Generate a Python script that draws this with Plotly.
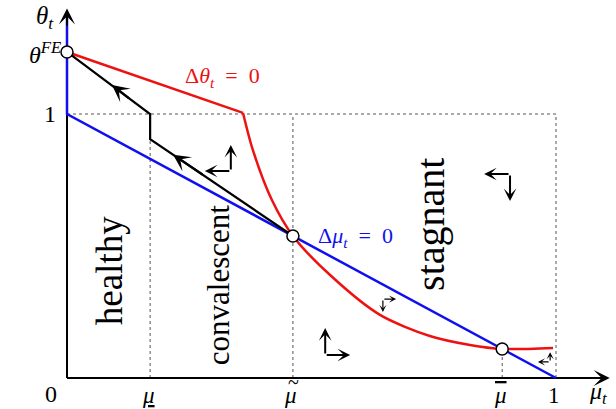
import plotly.graph_objects as go

# ---- data ----
theta_fe = 1.235
mu_low, mu_tilde, mu_bar = 0.17, 0.462, 0.89
steady_x = [0.0, mu_tilde, mu_bar]
steady_y = [theta_fe, 0.538, 0.11]

blue_x = [0.0, 0.0, 1.0]
blue_y = [1.37, 1.0, 0.0]

red_lin_x = [0.0, 0.36]
red_lin_y = [theta_fe, 1.004]
red_curve_x = [0.36, 0.38, 0.419, 0.462, 0.538, 0.640, 0.742, 0.824, 0.89, 0.994]
red_curve_y = [1.004, 0.864, 0.674, 0.538, 0.390, 0.239, 0.159, 0.125, 0.11, 0.114]

path_x = [0.0, mu_low, mu_low, mu_tilde]
path_y = [theta_fe, 1.0, 0.905, 0.538]

# phase arrows: corner, vertical tip, horizontal tip, size class
phase_cx = [0.335, 0.906, 0.528, 0.646, 0.988]
phase_cy = [0.784, 0.773, 0.087, 0.299, 0.061]
phase_vy = [0.883, 0.670, 0.189, 0.250, 0.098]
phase_hx = [0.282, 0.853, 0.579, 0.673, 0.963]
phase_big = [True, True, True, False, False]

x_ticks = [mu_low, mu_tilde, mu_bar, 1.0]
x_labels = ["<u><i>μ</i></u>", "<i>μ</i>",
            "<span style='text-decoration:overline'><i>μ</i></span>", "1"]

regions = ["healthy", "convalescent", "stagnant"]
region_x = [0.086, 0.309, 0.742]
region_y = [0.405, 0.352, 0.583]
region_size = [37, 31, 40]

SERIF = "Liberation Serif, Times New Roman, DejaVu Serif, serif"
fig = go.Figure()

dash = dict(color="#555555", width=1, dash="3px,3px")
fig.add_trace(go.Scatter(x=[0, 1, 1], y=[1, 1, 0], mode="lines", line=dash))
for xv, top in [(mu_low, 1.0), (mu_tilde, 1.0), (mu_bar, steady_y[2])]:
    fig.add_trace(go.Scatter(x=[xv, xv], y=[0, top], mode="lines", line=dash))

# axes lines
fig.add_trace(go.Scatter(x=[0, 1.08], y=[0, 0], mode="lines", line=dict(color="black", width=2)))
fig.add_trace(go.Scatter(x=[0, 0], y=[0, 1.0], mode="lines", line=dict(color="black", width=2)))

fig.add_trace(go.Scatter(x=blue_x, y=blue_y, mode="lines", line=dict(color="#1010ee", width=2.5)))
fig.add_trace(go.Scatter(x=red_lin_x, y=red_lin_y, mode="lines", line=dict(color="#ee1111", width=2.5)))
fig.add_trace(go.Scatter(x=red_curve_x, y=red_curve_y, mode="lines",
                         line=dict(color="#ee1111", width=2.5, shape="spline", smoothing=0.8)))
fig.add_trace(go.Scatter(x=path_x, y=path_y, mode="lines", line=dict(color="black", width=2.2)))
fig.add_trace(go.Scatter(x=steady_x, y=steady_y, mode="markers",
                         marker=dict(size=12, color="white", line=dict(color="black", width=1.5))))

ann = []
def arrow(x0, y0, x1, y1, w, s):
    ann.append(dict(x=x1, y=y1, ax=x0, ay=y0, xref="x", yref="y", axref="x", ayref="y",
                    text="", showarrow=True, arrowhead=3, arrowwidth=w, arrowsize=s,
                    arrowcolor="black", standoff=0, startstandoff=0))

# axis arrow heads
arrow(1.05, 0, 1.11, 0, 2, 1.35)
arrow(0, 1.33, 0, 1.40, 2, 1.35)
# arrows on the path
arrow(0.13, 1.055, 0.092, 1.110, 2.2, 1.3)
arrow(0.28, 0.767, 0.217, 0.846, 2.2, 1.3)
# phase arrows
for cx, cy, vy, hx, big in zip(phase_cx, phase_cy, phase_vy, phase_hx, phase_big):
    w, s = (2, 1.05) if big else (1.2, 1.0)
    arrow(cx, cy, cx, vy, w, s)
    arrow(cx, cy, hx, cy, w, s)

def label(x, y, t, size=24, color="black", xanchor="center", angle=0):
    ann.append(dict(x=x, y=y, xref="x", yref="y", text=t, showarrow=False,
                    xanchor=xanchor, yanchor="middle", textangle=angle,
                    font=dict(family=SERIF, size=size, color=color)))

SP = "\u2002"
label(-0.045, 1.365, "<i>θ<sub>t</sub></i>", size=25)
label(-0.008, theta_fe - 0.005, "<i>θ<sup>FE</sup></i>", size=24, xanchor="right")
label(-0.035, 1.0, "1")
label(-0.033, -0.062, "0")
for xv, t in zip(x_ticks, x_labels):
    label(xv - 0.004, -0.068, t, size=23)
label(mu_tilde + 0.002, -0.017, "~", size=20)
label(1.086, -0.056, "<i>μ<sub>t</sub></i>", size=24)
label(0.317, 1.14, "Δ<i>θ<sub>t</sub></i>" + SP + "=" + SP + "0", size=22, color="#ee1111")
label(0.51, 0.535, "Δ<i>μ<sub>t</sub></i>" + SP + "=" + SP + "0", size=22, color="#1010ee", xanchor="left")
for t, xv, yv, fs in zip(regions, region_x, region_y, region_size):
    label(xv, yv, t, size=fs, angle=-90)

fig.update_layout(
    width=616, height=409, autosize=False,
    margin=dict(l=0, r=0, t=0, b=0),
    plot_bgcolor="white", paper_bgcolor="white",
    showlegend=False, annotations=ann,
    xaxis=dict(range=[-67 / 489, 549 / 489], visible=False, fixedrange=True),
    yaxis=dict(range=[-31 / 264, 378 / 264], visible=False, fixedrange=True),
)
fig.write_html("out.html", config={"displayModeBar": False},
               post_script="document.body.style.margin='0';")
